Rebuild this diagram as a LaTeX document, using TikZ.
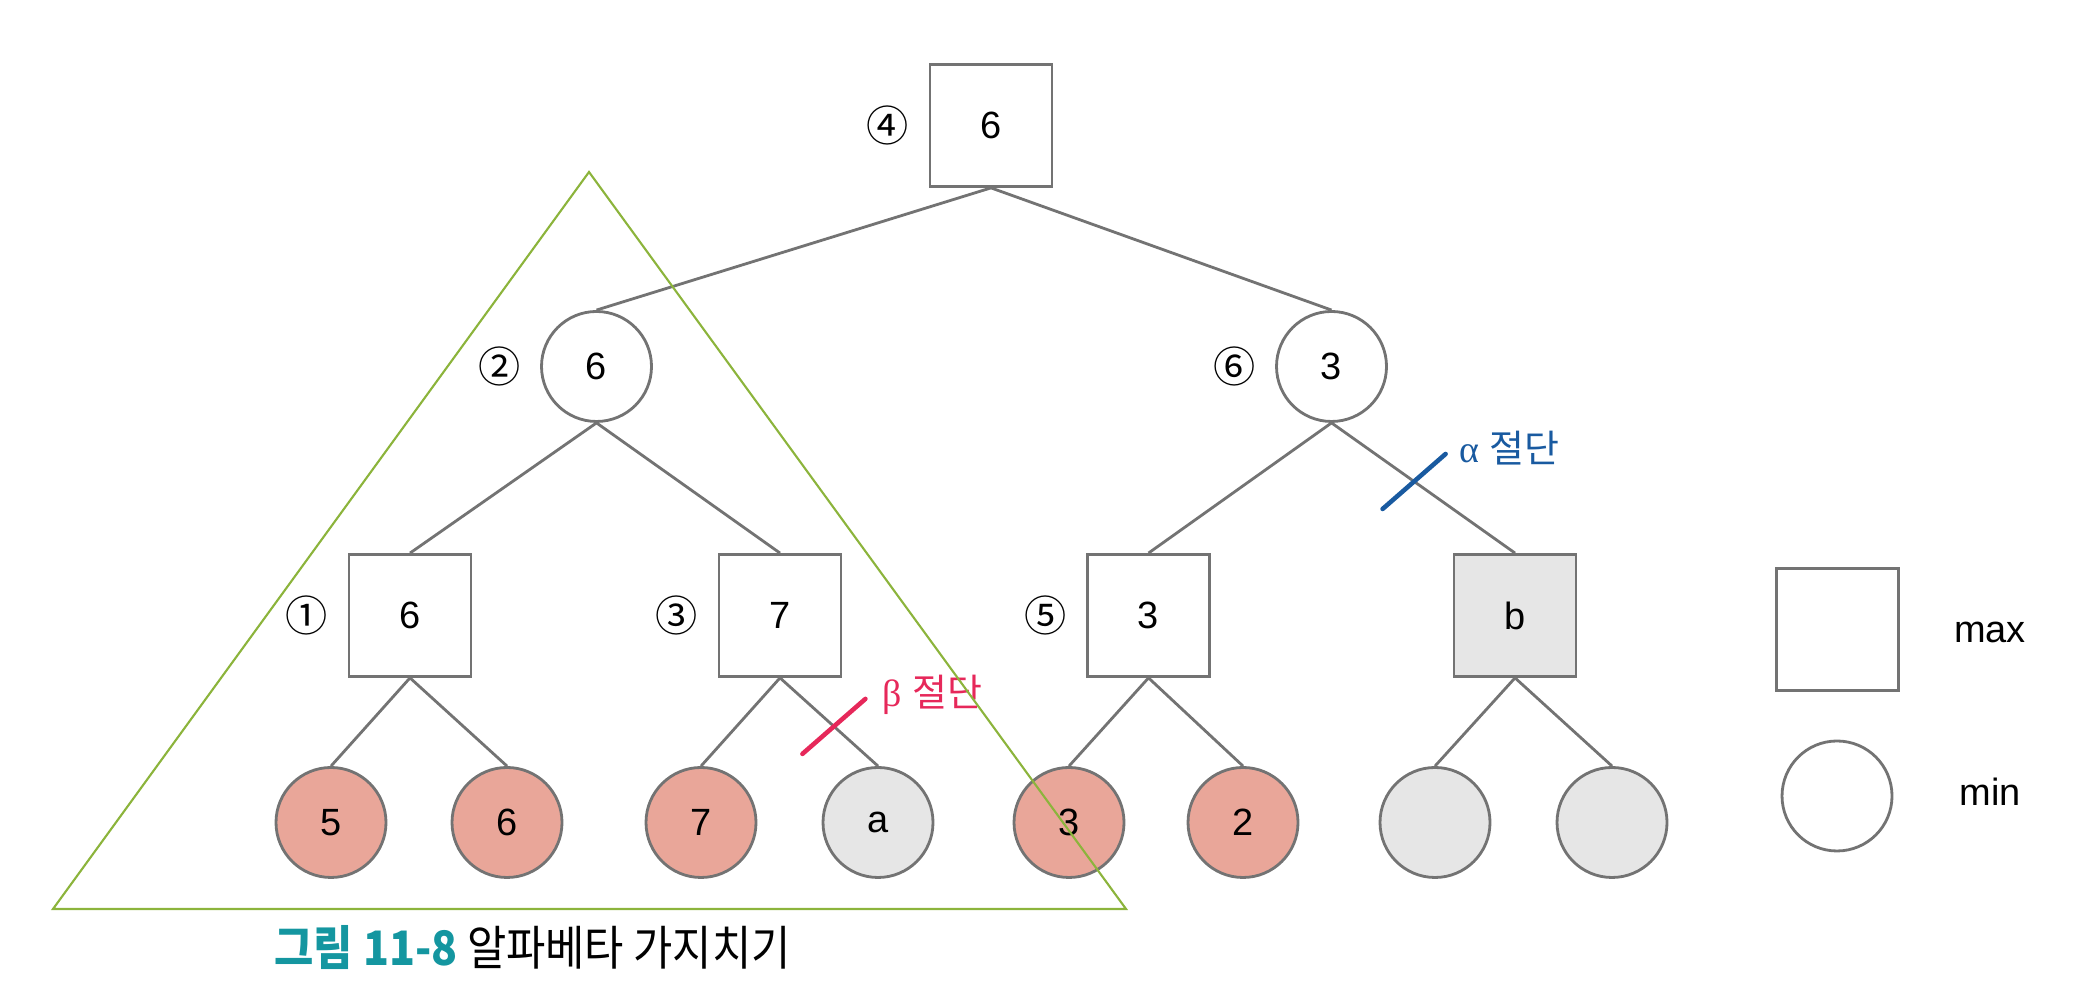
\documentclass[tikz,border=0pt]{standalone}
\usepackage{fontspec}
\setmainfont{Liberation Sans}
\newfontfamily\kofont{Noto Sans CJK KR}
\newfontfamily\capfont[FakeStretch=0.9]{Noto Sans CJK KR}
\newfontfamily\grkfont{Liberation Serif}
\usetikzlibrary{positioning}

\begin{document}
\begin{tikzpicture}[
    every node/.style={font=\fontsize{10.8}{13}\selectfont},
    maxnode/.style={draw=edgegray, line width=0.8pt, minimum size=1.22cm, inner sep=0pt, fill=white},
    minnode/.style={draw=edgegray, line width=0.8pt, circle, minimum size=1.10cm, inner sep=0pt, fill=white},
    leafnode/.style={minnode, fill=leafpink},
    prunednode/.style={minnode, fill=cutgray},
    ordnum/.style={font=\kofont\fontsize{12}{14}\selectfont, inner sep=0pt},
    link/.style={draw=edgegray, line width=0.8pt},
    cutline/.style={line width=1.3pt, line cap=round},
]
    % Colori
    \definecolor{edgegray}{RGB}{115,115,115}
    \definecolor{leafpink}{RGB}{233,166,153}
    \definecolor{cutgray}{RGB}{230,230,230}
    \definecolor{trigreen}{RGB}{140,180,60}
    \definecolor{cutred}{RGB}{230,40,90}
    \definecolor{cutblue}{RGB}{25,90,160}
    \definecolor{capteal}{RGB}{20,150,160}

    \useasboundingbox (0,0) rectangle (20.94,10);

    % Radice (max)
    \node[maxnode] (root) at (9.91,8.745) {6};
    \node[ordnum, left=0.19cm of root] (n4) {④};

    % Livello min
    \node[minnode] (m1) at (5.965,6.335) {6};
    \node[minnode] (m2) at (13.315,6.335) {3};
    \node[ordnum, left=0.19cm of m1] (n2) {②};
    \node[ordnum, left=0.19cm of m2] (n6) {⑥};

    % Livello max
    \node[maxnode] (s1) at (4.10,3.845) {6};
    \node[maxnode] (s2) at (7.80,3.845) {7};
    \node[maxnode] (s3) at (11.485,3.845) {3};
    \node[maxnode, fill=cutgray] (s4) at (15.15,3.845) {b};
    \node[ordnum, left=0.19cm of s1] (n1) {①};
    \node[ordnum, left=0.19cm of s2] (n3) {③};
    \node[ordnum, left=0.19cm of s3] (n5) {⑤};

    % Foglie
    \node[leafnode] (l1) at (3.31,1.775) {5};
    \node[leafnode] (l2) at (5.07,1.775) {6};
    \node[leafnode] (l3) at (7.01,1.775) {7};
    \node[prunednode] (l4) at (8.78,1.775) {a};
    \node[leafnode] (l5) at (10.69,1.775) {3};
    \node[leafnode] (l6) at (12.43,1.775) {2};
    \node[prunednode] (l7) at (14.35,1.775) {};
    \node[prunednode] (l8) at (16.12,1.775) {};

    % Archi
    \draw[link] (root.south) -- (m1.north);
    \draw[link] (root.south) -- (m2.north);
    \draw[link] (m1.south) -- (s1.north);
    \draw[link] (m1.south) -- (s2.north);
    \draw[link] (m2.south) -- (s3.north);
    \draw[link] (m2.south) -- coordinate[pos=0.45] (acut) (s4.north);
    \draw[link] (s1.south) -- (l1.north);
    \draw[link] (s1.south) -- (l2.north);
    \draw[link] (s2.south) -- (l3.north);
    \draw[link] (s2.south) -- coordinate[pos=0.55] (bcut) (l4.north);
    \draw[link] (s3.south) -- (l5.north);
    \draw[link] (s3.south) -- (l6.north);
    \draw[link] (s4.south) -- (l7.north);
    \draw[link] (s4.south) -- (l8.north);

    % Tagli alfa e beta
    \draw[cutline, cutred] ([shift={(-0.315,-0.275)}]bcut) -- ([shift={(0.315,0.275)}]bcut);
    \node[anchor=west, text=cutred] (btxt) at ([shift={(0.36,0.32)}]bcut) {{\grkfont β} {\kofont 절단}};
    \draw[cutline, cutblue] ([shift={(-0.315,-0.275)}]acut) -- ([shift={(0.315,0.275)}]acut);
    \node[anchor=west, text=cutblue] (atxt) at ([shift={(0.33,0.33)}]acut) {{\grkfont α} {\kofont 절단}};

    % Sottoalbero
    \draw[trigreen, line width=0.6pt] (0.53,0.91) -- (5.89,8.28) -- (11.26,0.91) -- cycle;

    % Legenda
    \node[maxnode] (legmax) at (18.375,3.705) {};
    \node (legmaxt) at (19.90,3.68) {max};
    \node[minnode] (legmin) at (18.37,2.04) {};
    \node (legmint) at (19.90,2.08) {min};

    % Didascalia
    \node[anchor=west, inner sep=0pt] (caption) at (2.74,0.52)
        {\capfont\fontsize{13.5}{16}\selectfont{\bfseries\color{capteal}그림 11-8} 알파베타 가지치기};
\end{tikzpicture}
\end{document}
